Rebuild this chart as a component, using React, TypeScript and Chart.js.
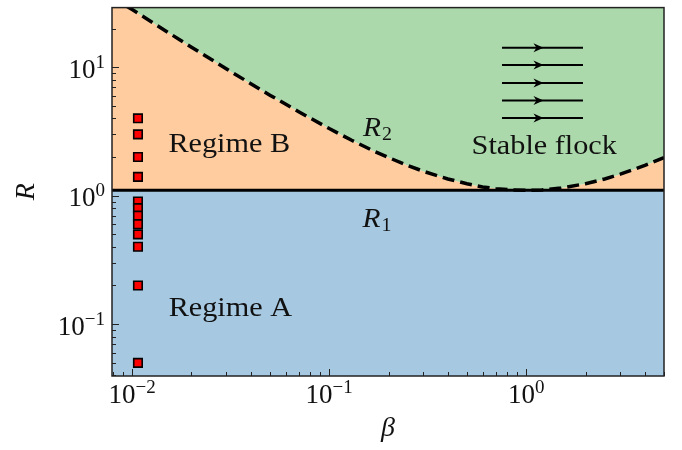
import React, { useEffect, useRef } from 'react';
import { Chart, registerables } from 'chart.js';

Chart.register(...registerables);

// ---------- data ----------
const betaGrid = [0.0079, 0.009, 0.01, 0.0125, 0.015, 0.02, 0.025, 0.03, 0.04, 0.05, 0.07, 0.1, 0.13, 0.17, 0.2, 0.25, 0.3, 0.4, 0.5, 0.6, 0.7, 0.85, 1, 1.2, 1.5, 2, 2.5, 3, 4, 5];
const r2Values = [35.4, 31.1, 28.1, 22.6, 18.9, 14.3, 11.6, 9.73, 7.44, 6.06, 4.5, 3.33, 2.7, 2.21, 1.98, 1.72, 1.55, 1.35, 1.24, 1.17, 1.135, 1.107, 1.1, 1.109, 1.146, 1.24, 1.35, 1.47, 1.72, 1.98];
const r1Value = 1.1;
const sampleBeta = 0.0107;
const sampleR = [4, 3, 2, 1.4, 0.9, 0.8, 0.7, 0.6, 0.5, 0.4, 0.2, 0.05];
const arrowBeta = [0.753, 1.94];
const arrowR = [4.03, 5.5, 7.55, 10.4, 14.2];
const xRange = [0.0079, 5];
const yRange = [0.0395, 29.1];
const xMajorTicks = [0.01, 0.1, 1];
const xTickExponents = ['\u22122', '\u22121', '0'];
const yMajorTicks = [0.1, 1, 10];
const yTickExponents = ['\u22121', '0', '1'];
const xTitle = '\u03b2';
const yTitle = 'R';

// annotation anchors in data coordinates
const regionLabels = [
  { text: 'Regime B', beta: 0.0311, r: 2.19 },
  { text: 'Regime A', beta: 0.0315, r: 0.1157 },
  { text: 'Stable flock', beta: 1.234, r: 2.11 },
];
const curveLabels = [
  { main: 'R', sub: '2', beta: 0.1485, r: 2.9 },
  { main: 'R', sub: '1', beta: 0.1474, r: 0.574 },
];

// ---------- styles ----------
const BLUE = 'rgb(166,201,225)';
const ORANGE = 'rgb(255,204,159)';
const GREEN = 'rgb(171,217,171)';
const FONT = '"Liberation Serif", "Times New Roman", Times, serif';
const INK = '#111';

function logTicks(min: number, max: number) {
  const out: { v: number; major: boolean }[] = [];
  for (let e = Math.floor(Math.log10(min)); e <= Math.ceil(Math.log10(max)); e++) {
    for (let m = 1; m < 10; m++) {
      const v = m * Math.pow(10, e);
      if (v >= min * 0.999 && v <= max * 1.001) out.push({ v, major: m === 1 });
    }
  }
  return out;
}

function stretchText(ctx: CanvasRenderingContext2D, text: string, x: number, y: number, sx: number, align: 'left' | 'center') {
  const w = ctx.measureText(text).width * sx;
  const left = align === 'center' ? x - w / 2 : x;
  ctx.save();
  ctx.translate(left, y);
  ctx.scale(sx, 1);
  ctx.textAlign = 'left';
  ctx.fillText(text, 0, 0);
  ctx.restore();
  return w;
}

const decorPlugin = {
  id: 'decor',
  afterDatasetsDraw(chart: any) {
    const { ctx, scales } = chart;
    const xs = scales.x;
    const ys = scales.y;
    ctx.save();
    // arrow heads
    chart.data.datasets.forEach((ds: any, i: number) => {
      if (!ds.arrow) return;
      const pts = chart.getDatasetMeta(i).data;
      const x0 = pts[0].x;
      const x1 = pts[1].x;
      const y = pts[0].y;
      const tip = (x0 + x1) / 2 + 1;
      ctx.beginPath();
      ctx.moveTo(tip, y);
      ctx.lineTo(tip - 10, y - 4.5);
      ctx.lineTo(tip - 7, y);
      ctx.lineTo(tip - 10, y + 4.5);
      ctx.closePath();
      ctx.fillStyle = '#000';
      ctx.fill();
    });
    // region labels
    ctx.fillStyle = INK;
    ctx.textBaseline = 'alphabetic';
    ctx.font = `28px ${FONT}`;
    regionLabels.forEach((l) => {
      stretchText(ctx, l.text, xs.getPixelForValue(l.beta), ys.getPixelForValue(l.r), 1.08, 'center');
    });
    curveLabels.forEach((l) => {
      const x = xs.getPixelForValue(l.beta);
      const y = ys.getPixelForValue(l.r);
      ctx.font = `italic 28px ${FONT}`;
      const w = stretchText(ctx, l.main, x, y, 1.05, 'left');
      ctx.font = `19px ${FONT}`;
      stretchText(ctx, l.sub, x + w + 1, y + 4, 1.05, 'left');
    });
    ctx.restore();
  },
  afterDraw(chart: any) {
    const { ctx, chartArea: a, scales } = chart;
    const xs = scales.x;
    const ys = scales.y;
    ctx.save();
    // ticks (inward)
    ctx.strokeStyle = '#222';
    ctx.lineWidth = 1;
    logTicks(xRange[0], xRange[1]).forEach((t) => {
      const px = Math.round(xs.getPixelForValue(t.v)) + 0.5;
      const len = t.major ? 7 : 4;
      ctx.beginPath();
      ctx.moveTo(px, a.bottom);
      ctx.lineTo(px, a.bottom - len);
      ctx.stroke();
    });
    logTicks(yRange[0], yRange[1]).forEach((t) => {
      const py = Math.round(ys.getPixelForValue(t.v)) + 0.5;
      const len = t.major ? 7 : 4;
      ctx.beginPath();
      ctx.moveTo(a.left, py);
      ctx.lineTo(a.left + len, py);
      ctx.stroke();
    });
    // spines
    ctx.strokeStyle = '#222';
    ctx.lineWidth = 1.5;
    ctx.strokeRect(a.left, a.top, a.right - a.left, a.bottom - a.top);
    // tick labels
    ctx.fillStyle = INK;
    ctx.textAlign = 'left';
    ctx.textBaseline = 'alphabetic';
    xMajorTicks.forEach((v, i) => {
      const px = xs.getPixelForValue(v);
      ctx.font = `27px ${FONT}`;
      const w1 = ctx.measureText('10').width;
      ctx.font = `19px ${FONT}`;
      const w2 = ctx.measureText(xTickExponents[i]).width;
      const start = px - (w1 + w2) / 2;
      ctx.font = `27px ${FONT}`;
      ctx.fillText('10', start, a.bottom + 27);
      ctx.font = `19px ${FONT}`;
      ctx.fillText(xTickExponents[i], start + w1, a.bottom + 17);
    });
    yMajorTicks.forEach((v, i) => {
      const py = ys.getPixelForValue(v);
      ctx.font = `27px ${FONT}`;
      const w1 = ctx.measureText('10').width;
      ctx.font = `19px ${FONT}`;
      const w2 = ctx.measureText(yTickExponents[i]).width;
      const start = a.left - 7 - (w1 + w2);
      ctx.font = `27px ${FONT}`;
      ctx.fillText('10', start, py + 10.5);
      ctx.font = `19px ${FONT}`;
      ctx.fillText(yTickExponents[i], start + w1, py + 0.5);
    });
    // axis titles
    ctx.font = `italic 28px ${FONT}`;
    ctx.textAlign = 'center';
    ctx.fillText(xTitle, (a.left + a.right) / 2, a.bottom + 60);
    ctx.save();
    ctx.translate(27, (a.top + a.bottom) / 2);
    ctx.rotate(-Math.PI / 2);
    ctx.textBaseline = 'middle';
    ctx.fillText(yTitle, 0, 0);
    ctx.restore();
    ctx.restore();
  },
};

export default function App() {
  const ref = useRef<HTMLCanvasElement>(null);
  useEffect(() => {
    document.body.style.margin = '0';
    let chart: Chart | null = null;
    let cancelled = false;
    const build = () => {
      if (cancelled || !ref.current) return;
      const r1Data = betaGrid.map((b) => ({ x: b, y: r1Value }));
      const r2Data = betaGrid.map((b, i) => ({ x: b, y: r2Values[i] }));
      const arrowSets = arrowR.map((r) => ({
        label: 'arrow',
        data: arrowBeta.map((b) => ({ x: b, y: r })),
        showLine: true,
        borderColor: '#000',
        borderWidth: 2,
        pointRadius: 0,
        fill: false,
        arrow: true,
        order: 3,
      }));
      chart = new Chart(ref.current, {
        type: 'scatter',
        data: {
          datasets: [
            {
              label: 'R1',
              data: r1Data,
              showLine: true,
              borderColor: '#000',
              borderWidth: 3,
              pointRadius: 0,
              fill: 'start',
              backgroundColor: BLUE,
              order: 2,
            },
            {
              label: 'R2',
              data: r2Data,
              showLine: true,
              borderColor: '#000',
              borderWidth: 3.5,
              borderDash: [12, 6],
              pointRadius: 0,
              fill: 'end',
              backgroundColor: GREEN,
              order: 1,
            },
            {
              label: 'R2 lower',
              data: r2Data,
              showLine: true,
              borderColor: 'rgba(0,0,0,0)',
              borderWidth: 0,
              pointRadius: 0,
              fill: 0,
              backgroundColor: ORANGE,
              order: 5,
            },
            ...arrowSets,
            {
              label: 'samples',
              data: sampleR.map((r) => ({ x: sampleBeta, y: r })),
              showLine: false,
              pointStyle: 'rect',
              pointRadius: 6,
              pointBackgroundColor: '#ff0000',
              pointBorderColor: '#000',
              pointBorderWidth: 1.6,
              order: 0,
            },
          ] as any,
        },
        options: {
          responsive: false,
          animation: false,
          events: [],
          layout: { padding: { left: 112, right: 18, top: 1, bottom: 74 } },
          scales: {
            x: { type: 'logarithmic', min: xRange[0], max: xRange[1], display: false },
            y: { type: 'logarithmic', min: yRange[0], max: yRange[1], display: false },
          },
          plugins: {
            legend: { display: false },
            tooltip: { enabled: false },
            filler: { propagate: false, drawTime: 'beforeDatasetsDraw' },
          },
        } as any,
        plugins: [decorPlugin],
      });
    };
    const fonts: any = (document as any).fonts;
    if (fonts && fonts.load) {
      Promise.all([
        fonts.load('27px "Liberation Serif"'),
        fonts.load('italic 28px "Liberation Serif"'),
      ]).then(build, build);
    } else {
      build();
    }
    return () => {
      cancelled = true;
      if (chart) chart.destroy();
    };
  }, []);
  return (
    <div style={{ width: 682, height: 450 }}>
      <canvas ref={ref} width={682} height={450} style={{ display: 'block' }} />
    </div>
  );
}
